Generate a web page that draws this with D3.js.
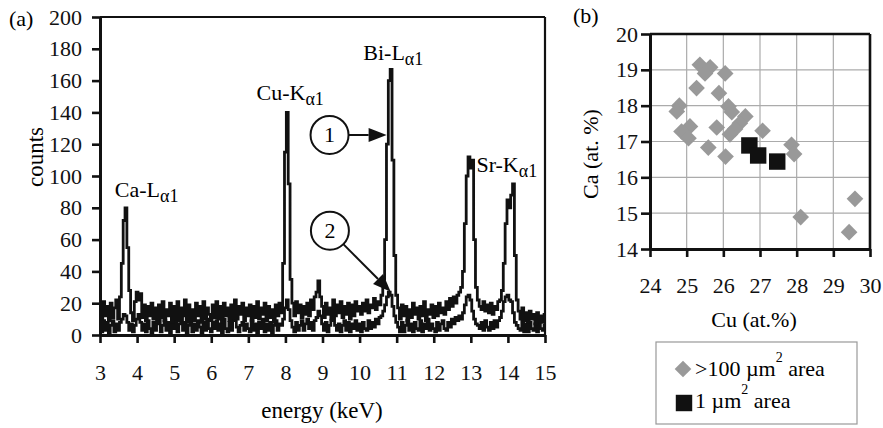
<!DOCTYPE html>
<html><head><meta charset="utf-8">
<script src="https://cdn.jsdelivr.net/npm/d3@7"></script>
<style>
html,body{margin:0;padding:0;background:#fff;}
svg{display:block;font-family:"Liberation Serif","Times New Roman",serif;}
</style></head>
<body>
<svg id="chart" width="883" height="428"></svg>
<script>
// ---------- DATA ----------
const energyStart = 3, energyStep = 0.05;   // keV, channel spacing
// spectrum 1 (upper trace), 3.00 ... 15.00 keV
const spectrum1 = [
 19,10,21,12,18,9,20,11,17,22,10,24,45,72,80,55,28,14,9,21,
 27,22,26,11,19,9,18,12,20,10,17,8,19,11,21,9,16,12,20,8,
 18,10,21,9,17,12,22,8,19,11,16,9,20,12,18,8,21,10,17,13,
 9,19,11,21,10,18,8,20,12,17,9,19,11,22,10,18,13,20,9,17,
 12,19,9,18,11,21,10,17,13,20,9,18,11,16,8,19,12,20,14,45,
 115,140,95,35,20,12,21,14,19,11,18,13,20,12,22,16,24,27,34,24,
 18,11,20,13,17,10,22,12,19,14,21,11,18,13,20,10,19,12,21,15,
 18,13,20,15,22,14,19,17,23,16,21,19,25,35,60,120,160,167,110,50,
 25,17,10,19,12,18,9,16,11,20,13,17,10,18,12,21,9,16,13,19,
 11,18,12,20,14,17,13,21,16,23,18,24,20,25,27,30,40,70,100,112,
 105,110,60,30,22,18,16,21,15,19,14,20,13,18,16,21,22,28,45,70,
 85,80,88,95,50,22,15,10,17,9,14,8,15,10,13,7,14,9,12,8,
 13
];
// spectrum 2 (lower trace)
const spectrum2 = [
 7,2,9,3,8,1,6,9,2,7,3,8,10,13,12,8,3,7,2,6,
 10,13,8,3,7,2,9,4,1,8,3,7,10,2,6,9,3,8,1,7,
 4,9,2,7,11,3,8,1,6,10,2,7,3,9,5,1,8,3,10,4,
 2,8,4,9,3,7,1,10,4,2,8,3,12,9,5,2,6,8,3,7,
 4,2,9,3,7,1,8,4,10,2,7,3,8,1,6,9,3,7,6,10,
 17,22,16,9,5,2,8,3,6,9,3,7,10,4,8,3,9,11,15,12,
 7,3,8,2,6,9,11,6,3,7,2,6,9,3,8,2,7,4,9,3,
 7,2,8,4,3,9,4,8,5,10,7,11,12,15,19,24,27,25,18,12,
 8,5,2,8,2,6,9,3,7,2,8,4,3,9,2,7,4,10,3,7,
 4,2,8,3,7,9,4,3,8,5,10,7,11,9,12,10,14,19,24,25,
 22,15,10,7,6,4,8,3,9,5,3,8,4,9,5,9,11,15,21,24,
 25,22,21,14,8,6,4,3,9,2,7,2,8,4,3,7,2,9,4,3,
 6
];
const energyTicks = [3,4,5,6,7,8,9,10,11,12,13,14,15];
const countTicks = [0,20,40,60,80,100,120,140,160,180,200];

// peak labels: [main text, subscript, energy, counts]
const peakLabels = [
 ["Ca-L","\u03b11",3.40,86.8],
 ["Cu-K","\u03b11",7.22,147.8],
 ["Bi-L","\u03b11",10.10,173],
 ["Sr-K","\u03b11",13.15,102.7]
];
// numbered markers: [label, circle energy, circle counts, arrow tip energy, arrow tip counts]
const markers = [
 ["1",9.19,125.8,10.73,125.8],
 ["2",9.20,65.6,10.84,27.2]
];

// panel (b): Cu vs Ca (at.%)
const bigAreaCu = [25.36,25.64,25.50,26.05,25.27,25.88,24.80,24.73,26.14,26.23,25.09,24.86,25.05,25.82,26.60,26.45,26.32,26.18,27.07,25.59,26.06,27.86,27.93,29.59,28.11,29.43];
const bigAreaCa = [19.14,19.07,18.90,18.90,18.49,18.35,18.00,17.84,17.98,17.82,17.42,17.28,17.09,17.39,17.70,17.51,17.35,17.20,17.30,16.83,16.58,16.91,16.65,15.40,14.89,14.47];
const smallAreaCu = [26.71,26.95,27.47];
const smallAreaCa = [16.89,16.61,16.44];
const cuTicks = [24,25,26,27,28,29,30];
const caTicks = [14,15,16,17,18,19,20];

// ---------- DRAW ----------
const svg = d3.select("#chart");
const FONT = 22;

// ===== panel (a) =====
const xA = d3.scaleLinear().domain([3,15]).range([100,545]);
const yA = d3.scaleLinear().domain([0,200]).range([335,17]);

svg.append("text").attr("x",9).attr("y",26).attr("font-size",FONT).text("(a)");

const gA = svg.append("g");
svg.append("defs").append("clipPath").attr("id","clipA")
  .append("rect").attr("x",100).attr("y",12).attr("width",445).attr("height",324);

function toPts(arr){ return arr.map((v,i)=>[energyStart+i*energyStep, v]); }
const line = d3.line().x(d=>xA(d[0])).y(d=>yA(d[1])).curve(d3.curveStep);
[spectrum2, spectrum1].forEach(s=>{
  gA.append("path").attr("d", line(toPts(s)))
    .attr("fill","none").attr("stroke","#111").attr("stroke-width",2.8)
    .attr("stroke-linejoin","miter").attr("clip-path","url(#clipA)");
});

// frame top / right
gA.append("line").attr("x1",100).attr("x2",545).attr("y1",17).attr("y2",17).attr("stroke","#111").attr("stroke-width",2.2);
gA.append("line").attr("x1",545).attr("x2",545).attr("y1",17).attr("y2",335).attr("stroke","#111").attr("stroke-width",2.2);

const axA_x = gA.append("g").attr("transform","translate(0,335)")
  .call(d3.axisBottom(xA).tickValues(energyTicks).tickSize(8).tickSizeOuter(0).tickPadding(21).tickFormat(d3.format("d")));
const axA_y = gA.append("g").attr("transform","translate(100,0)")
  .call(d3.axisLeft(yA).tickValues(countTicks).tickSize(8).tickSizeOuter(0).tickPadding(10).tickFormat(d3.format("d")));
[axA_x, axA_y].forEach(a=>{
  a.attr("font-family","Liberation Serif").attr("font-size",FONT);
  a.select(".domain").attr("stroke","#111").attr("stroke-width",3);
  a.selectAll(".tick line").attr("stroke","#111").attr("stroke-width",2.6);
  a.selectAll(".tick text").attr("font-size",FONT).attr("font-family","Liberation Serif").attr("fill","#111");
});

svg.append("text").attr("x",322).attr("y",418).attr("text-anchor","middle").attr("font-size",23).text("energy (keV)");
svg.append("text").attr("transform","translate(43,157) rotate(-90)").attr("text-anchor","middle").attr("font-size",23).text("counts");

peakLabels.forEach(p=>{
  const t = svg.append("text").attr("x",xA(p[2])).attr("y",yA(p[3])).attr("font-size",FONT);
  t.append("tspan").text(p[0]);
  t.append("tspan").attr("dy",5).attr("font-size",18).text(p[1]);
});

markers.forEach(m=>{
  const cx = xA(m[1]), cy = yA(m[2]), tx = xA(m[3]), ty = yA(m[4]), r = 19;
  svg.append("circle").attr("cx",cx).attr("cy",cy).attr("r",r).attr("fill","#fff").attr("stroke","#111").attr("stroke-width",2);
  svg.append("text").attr("x",cx).attr("y",cy+7).attr("text-anchor","middle").attr("font-size",FONT).text(m[0]);
  const dx = tx-cx, dy = ty-cy, L = Math.hypot(dx,dy), ux = dx/L, uy = dy/L;
  const hl = 18, hw = 7;
  const bx = tx-ux*hl, by = ty-uy*hl;
  svg.append("line").attr("x1",cx+ux*r).attr("y1",cy+uy*r).attr("x2",bx).attr("y2",by).attr("stroke","#111").attr("stroke-width",2);
  svg.append("path").attr("d",`M${tx},${ty}L${bx-uy*hw},${by+ux*hw}L${bx+uy*hw},${by-ux*hw}Z`).attr("fill","#111");
});

// ===== panel (b) =====
const xB = d3.scaleLinear().domain([24,30]).range([650,870]);
const yB = d3.scaleLinear().domain([14,20]).range([249,34]);

svg.append("text").attr("x",573).attr("y",23).attr("font-size",FONT).text("(b)");

const gB = svg.append("g");
gB.selectAll("line.gv").data(cuTicks.slice(1,-1)).join("line")
  .attr("x1",d=>xB(d)).attr("x2",d=>xB(d)).attr("y1",yB(20)).attr("y2",yB(14))
  .attr("stroke","#ababab").attr("stroke-width",1.2);
gB.selectAll("line.gh").data(caTicks.slice(1,-1)).join("line")
  .attr("y1",d=>yB(d)).attr("y2",d=>yB(d)).attr("x1",xB(24)).attr("x2",xB(30))
  .attr("stroke","#ababab").attr("stroke-width",1.2);
gB.append("line").attr("x1",xB(24)).attr("x2",xB(30)).attr("y1",yB(20)).attr("y2",yB(20)).attr("stroke","#111").attr("stroke-width",2.6);
gB.append("line").attr("x1",xB(30)).attr("x2",xB(30)).attr("y1",yB(20)).attr("y2",yB(14)).attr("stroke","#111").attr("stroke-width",2.6);

const axB_x = gB.append("g").attr("transform",`translate(0,${yB(14)})`)
  .call(d3.axisBottom(xB).tickValues(cuTicks).tickSize(8).tickSizeOuter(0).tickPadding(20).tickFormat(d3.format("d")));
const axB_y = gB.append("g").attr("transform",`translate(${xB(24)},0)`)
  .call(d3.axisLeft(yB).tickValues(caTicks).tickSize(9).tickSizeOuter(0).tickPadding(3).tickFormat(d3.format("d")));
[axB_x, axB_y].forEach(a=>{
  a.attr("font-family","Liberation Serif").attr("font-size",FONT);
  a.select(".domain").attr("stroke","#111").attr("stroke-width",3);
  a.selectAll(".tick line").attr("stroke","#111").attr("stroke-width",2.6);
  a.selectAll(".tick text").attr("font-size",FONT).attr("font-family","Liberation Serif").attr("fill","#111");
});

const diamond = d3.symbol().type(d3.symbolSquare).size(139);
const square = d3.symbol().type(d3.symbolSquare).size(270);
gB.selectAll("path.big").data(bigAreaCu.map((c,i)=>[c,bigAreaCa[i]])).join("path")
  .attr("d",diamond).attr("transform",d=>`translate(${xB(d[0])},${yB(d[1])}) rotate(45)`)
  .attr("fill","#999999");
gB.selectAll("path.small").data(smallAreaCu.map((c,i)=>[c,smallAreaCa[i]])).join("path")
  .attr("d",square).attr("transform",d=>`translate(${xB(d[0])},${yB(d[1])})`)
  .attr("fill","#111");

svg.append("text").attr("x",754).attr("y",327).attr("text-anchor","middle").attr("font-size",FONT).text("Cu (at.%)");
svg.append("text").attr("transform","translate(598,154) rotate(-90)").attr("text-anchor","middle").attr("font-size",FONT).text("Ca (at. %)");

// legend
const lg = svg.append("g");
lg.append("rect").attr("x",656).attr("y",342).attr("width",201).attr("height",82).attr("fill","#fff").attr("stroke","#999").attr("stroke-width",1.2);
lg.append("path").attr("d",diamond).attr("transform","translate(683,369) rotate(45)").attr("fill","#999999");
lg.append("path").attr("d",square).attr("transform","translate(684,403)").attr("fill","#111");
const t1 = lg.append("text").attr("x",695).attr("y",376).attr("font-size",FONT);
t1.append("tspan").text(">100 \u00b5m");
t1.append("tspan").attr("dy",-14).attr("font-size",14).text("2");
t1.append("tspan").attr("dy",14).text(" area");
const t2 = lg.append("text").attr("x",695).attr("y",408).attr("font-size",FONT);
t2.append("tspan").text("1 \u00b5m");
t2.append("tspan").attr("dy",-14).attr("font-size",14).text("2");
t2.append("tspan").attr("dy",14).text(" area");
</script>
</body></html>
